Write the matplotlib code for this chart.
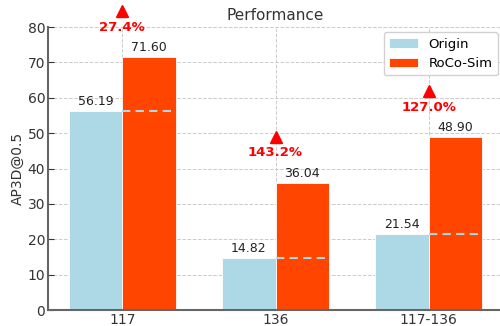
import matplotlib
matplotlib.use("Agg")
import matplotlib.pyplot as plt
import numpy as np

categories = ["117", "136", "117-136"]
origin     = [56.19, 14.82, 21.54]
roco_sim   = [71.60, 36.04, 48.90]

WIDTH = 0.35
TXT   = "#333333"

fig = plt.figure(figsize=(5.0, 3.26), dpi=100)
ax = fig.add_axes([0.096, 0.049, 0.91, 0.868])

x = np.arange(len(categories))
ax.bar(x - WIDTH / 2, origin, WIDTH, color="#ADD8E6", edgecolor="white", linewidth=0.6, label="Origin", zorder=2)
ax.bar(x + WIDTH / 2, roco_sim, WIDTH, color="#FF4500", edgecolor="white", linewidth=0.6, label="RoCo-Sim", zorder=2)

for i in range(len(categories)):
    o, r = origin[i], roco_sim[i]
    ax.text(x[i] - WIDTH / 2, o + 0.8, "%.2f" % o, ha="center", va="bottom", fontsize=9, color="#222222")
    ax.text(x[i] + WIDTH / 2, r + 0.8, "%.2f" % r, ha="center", va="bottom", fontsize=9, color="#222222")
    # origin level carried over the new bar
    ax.plot([x[i], x[i] + WIDTH], [o, o], ls=(0, (4, 2.5)), color="#ADD8E6", lw=1.5, zorder=3)
    gain = (r - o) / o * 100
    ax.plot(x[i], r + 13, marker="^", color="red", ms=8, clip_on=False, zorder=4, linestyle="none")
    ax.text(x[i], r + 8.4, "%.1f%%" % gain, ha="center", va="center", fontsize=9.5, fontweight="bold", color="red", clip_on=False)

ax.set_ylim(0, 80)
ax.set_xticks(x)
ax.set_xticklabels(categories)
ax.set_ylabel("AP3D@0.5", fontsize=10, color=TXT, labelpad=2)
ax.set_title("Performance", fontsize=11, color=TXT, pad=5)

ax.grid(True, ls="--", color="#cccccc", lw=0.7, zorder=0)
ax.set_axisbelow(True)
for s in ["top", "right"]:
    ax.spines[s].set_visible(False)
for s in ["left", "bottom"]:
    ax.spines[s].set_color("#666666")
    ax.spines[s].set_linewidth(1.5)
ax.tick_params(direction="in", colors=TXT, labelsize=10, length=4, pad=2)

ax.legend(loc="upper right", fontsize=9.5, framealpha=0.9, edgecolor="#cccccc",
          handlelength=2.2, borderaxespad=0.4)

fig.savefig("out.png", dpi=100)
